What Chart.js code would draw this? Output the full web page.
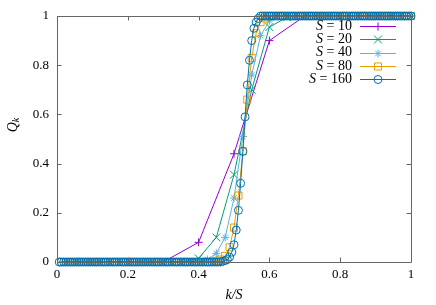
<!DOCTYPE html>
<html>
<head>
<meta charset="utf-8">
<script src="https://cdn.jsdelivr.net/npm/chart.js@4/dist/chart.umd.min.js"></script>
<style>
html,body{margin:0;padding:0;background:#fff;}
#c{display:block;}
</style>
</head>
<body>
<canvas id="c" width="436" height="305"></canvas>
<script>
// System sizes
const sizes = [10, 20, 40, 80, 160];
const seriesLabels = ["S = 10", "S = 20", "S = 40", "S = 80", "S = 160"];
const xTicks = [0, 0.2, 0.4, 0.6, 0.8, 1];
const yTicks = [0, 0.2, 0.4, 0.6, 0.8, 1];
const xTickLabels = ["0", "0.2", "0.4", "0.6", "0.8", "1"];
const yTickLabels = ["0", "0.2", "0.4", "0.6", "0.8", "1"];

// Q_k values for k = 1..S (x = k/S)
const q10 = [0, 0, 0, 0.08, 0.44, 0.90, 1, 1, 1, 1];
const q20 = [0, 0, 0, 0, 0, 0, 0, 0.015, 0.10, 0.355,
             0.70, 0.955, 0.995, 1, 1, 1, 1, 1, 1, 1];
const q40 = [0, 0, 0, 0, 0, 0, 0, 0, 0, 0,
             0, 0, 0, 0, 0, 0, 0.01, 0.035, 0.10, 0.26,
             0.51, 0.76, 0.92, 0.98, 1, 1, 1, 1, 1, 1,
             1, 1, 1, 1, 1, 1, 1, 1, 1, 1];
const q80 = [0, 0, 0, 0, 0, 0, 0, 0, 0, 0,
             0, 0, 0, 0, 0, 0, 0, 0, 0, 0,
             0, 0, 0, 0, 0, 0, 0, 0, 0, 0,
             0, 0, 0, 0, 0, 0.005, 0.01, 0.025, 0.06, 0.14,
             0.27, 0.45, 0.66, 0.83, 0.93, 0.975, 0.99, 1, 1, 1,
             1, 1, 1, 1, 1, 1, 1, 1, 1, 1,
             1, 1, 1, 1, 1, 1, 1, 1, 1, 1,
             1, 1, 1, 1, 1, 1, 1, 1, 1, 1];
const q160 = [0, 0, 0, 0, 0, 0, 0, 0, 0, 0,
              0, 0, 0, 0, 0, 0, 0, 0, 0, 0,
              0, 0, 0, 0, 0, 0, 0, 0, 0, 0,
              0, 0, 0, 0, 0, 0, 0, 0, 0, 0,
              0, 0, 0, 0, 0, 0, 0, 0, 0, 0,
              0, 0, 0, 0, 0, 0, 0, 0, 0, 0,
              0, 0, 0, 0, 0, 0, 0, 0, 0, 0,
              0, 0, 0, 0, 0.003, 0.006, 0.01, 0.02, 0.04, 0.07,
              0.13, 0.21, 0.32, 0.45, 0.59, 0.72, 0.82, 0.90, 0.95, 0.975,
              0.99, 1, 1, 1, 1, 1, 1, 1, 1, 1,
              1, 1, 1, 1, 1, 1, 1, 1, 1, 1,
              1, 1, 1, 1, 1, 1, 1, 1, 1, 1,
              1, 1, 1, 1, 1, 1, 1, 1, 1, 1,
              1, 1, 1, 1, 1, 1, 1, 1, 1, 1,
              1, 1, 1, 1, 1, 1, 1, 1, 1, 1,
              1, 1, 1, 1, 1, 1, 1, 1, 1, 1];
const allQ = [q10, q20, q40, q80, q160];

const colors = ["#9400d3", "#009e73", "#56b4e9", "#e69f00", "#0072b2"];
const styles = ["cross", "crossRot", "star", "rect", "circle"];
const radii = [4, 5.5, 4, 5, 4];

const SERIF = '"Liberation Serif", "DejaVu Serif", serif';

const datasets = sizes.map((S, i) => ({
  label: seriesLabels[i],
  data: allQ[i].map((v, k) => ({ x: (k + 1) / S, y: v })),
  borderColor: colors[i],
  borderWidth: 1,
  pointStyle: styles[i],
  pointRadius: radii[i],
  pointBorderColor: colors[i],
  pointBackgroundColor: "rgba(0,0,0,0)",
  pointBorderWidth: 1,
  fill: false,
  tension: 0,
  clip: false,
  order: sizes.length - i
}));

const frame = {
  id: "frame",
  afterDraw(chart) {
    const { ctx, chartArea: a, scales } = chart;
    ctx.save();
    ctx.strokeStyle = "#666";
    ctx.lineWidth = 1;
    ctx.beginPath();
    ctx.rect(a.left + 0.5, a.top + 0.5, a.right - a.left, a.bottom - a.top);
    ctx.stroke();
    const L = 4.5;
    ctx.beginPath();
    xTicks.forEach(t => {
      const px = Math.round(scales.x.getPixelForValue(t)) + 0.5;
      ctx.moveTo(px, a.bottom); ctx.lineTo(px, a.bottom - L);
      ctx.moveTo(px, a.top); ctx.lineTo(px, a.top + L);
    });
    yTicks.forEach(t => {
      const py = Math.round(scales.y.getPixelForValue(t)) + 0.5;
      ctx.moveTo(a.left, py); ctx.lineTo(a.left + L, py);
      ctx.moveTo(a.right, py); ctx.lineTo(a.right - L, py);
    });
    ctx.stroke();

    // axis titles
    ctx.fillStyle = "#000";
    ctx.textBaseline = "middle";
    ctx.textAlign = "center";
    ctx.font = "italic 14px " + SERIF;
    ctx.fillText("k/S", (a.left + a.right) / 2, 295);

    ctx.save();
    ctx.translate(13, 125);
    ctx.rotate(-Math.PI / 2);
    ctx.textAlign = "left";
    ctx.font = "italic 14px " + SERIF;
    const wq = ctx.measureText("Q").width;
    ctx.font = "italic 10px " + SERIF;
    const wk = ctx.measureText("k").width;
    const x0 = -(wq + wk) / 2;
    ctx.font = "italic 14px " + SERIF;
    ctx.fillText("Q", x0, 0);
    ctx.font = "italic 10px " + SERIF;
    ctx.fillText("k", x0 + wq, 3);
    ctx.restore();

    // legend
    const rowsY = [26, 39.3, 52.6, 66, 79.3];
    sizes.forEach((S, i) => {
      const y = rowsY[i];
      ctx.fillStyle = "#000";
      ctx.font = "14px " + SERIF;
      const rest = " = " + S;
      const wr = ctx.measureText(rest).width;
      ctx.textAlign = "right";
      ctx.fillText(rest, 352, y);
      ctx.font = "italic 14px " + SERIF;
      ctx.fillText("S", 352 - wr, y);
      ctx.strokeStyle = colors[i];
      ctx.lineWidth = 1;
      ctx.beginPath();
      ctx.moveTo(360, Math.round(y) + 0.5);
      ctx.lineTo(396, Math.round(y) + 0.5);
      ctx.stroke();
      ctx.fillStyle = "rgba(0,0,0,0)";
      ctx.strokeStyle = colors[i];
      Chart.helpers.drawPoint(ctx, {
        pointStyle: styles[i], radius: radii[i], borderWidth: 1
      }, 378, Math.round(y) + 0.5);
    });
    ctx.restore();
  }
};

new Chart(document.getElementById("c"), {
  type: "line",
  data: { datasets },
  options: {
    responsive: false,
    animation: false,
    devicePixelRatio: 1,
    layout: { padding: { top: 16, right: 25, left: 0, bottom: 0 } },
    plugins: { legend: { display: false }, tooltip: { enabled: false } },
    scales: {
      x: {
        type: "linear", min: 0, max: 1,
        afterBuildTicks: s => { s.ticks = xTicks.map(v => ({ value: v })); },
        ticks: {
          font: { family: SERIF, size: 13 }, color: "#000", padding: 5, maxRotation: 0,
          callback: (v, idx) => xTickLabels[idx]
        },
        grid: { display: false, drawTicks: false },
        border: { display: false },
        afterFit: s => { s.height = 43; }
      },
      y: {
        type: "linear", min: 0, max: 1,
        afterBuildTicks: s => { s.ticks = yTicks.map(v => ({ value: v })); },
        ticks: {
          font: { family: SERIF, size: 13 }, color: "#000", padding: 8,
          callback: (v, idx) => yTickLabels[idx]
        },
        grid: { display: false, drawTicks: false },
        border: { display: false },
        afterFit: s => { s.width = 57; }
      }
    }
  },
  plugins: [frame]
});
</script>
</body>
</html>
